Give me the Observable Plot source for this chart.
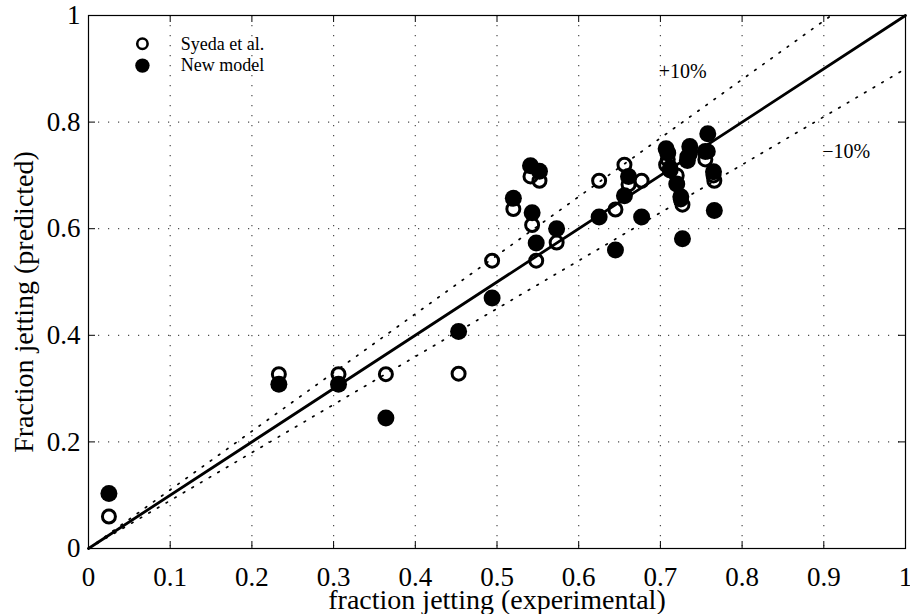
<!DOCTYPE html>
<html><head><meta charset="utf-8">
<script src="https://cdn.jsdelivr.net/npm/d3@7"></script>
<script src="https://cdn.jsdelivr.net/npm/@observablehq/plot@0.6"></script>
<style>body{margin:0;background:#fff} #chart{width:910px;height:614px}</style>
</head><body><div id="chart"></div>
<script>
// Experimental fraction jetting (x) and the two predictions (y)
const experimental = [0.025, 0.233, 0.306, 0.364, 0.453, 0.494, 0.520, 0.541, 0.543, 0.548, 0.552, 0.573,
  0.625, 0.645, 0.656, 0.661, 0.677, 0.707, 0.709, 0.712, 0.720, 0.725, 0.727, 0.733, 0.736, 0.755, 0.758, 0.765, 0.766];
const syeda = [0.060, 0.327, 0.327, 0.327, 0.328, 0.540, 0.637, 0.698, 0.607, 0.540, 0.690, 0.574,
  0.690, 0.636, 0.720, 0.683, 0.690, 0.720, 0.730, 0.715, 0.700, 0.655, 0.645, 0.735, 0.740, 0.730, 0.745, 0.700, 0.690];
const newModel = [0.103, 0.308, 0.308, 0.245, 0.407, 0.470, 0.657, 0.718, 0.630, 0.573, 0.708, 0.600,
  0.622, 0.560, 0.662, 0.698, 0.622, 0.750, 0.742, 0.710, 0.684, 0.660, 0.581, 0.728, 0.754, 0.745, 0.778, 0.707, 0.634];

const xTicks = [0, 0.1, 0.2, 0.3, 0.4, 0.5, 0.6, 0.7, 0.8, 0.9, 1];
const xTickLabels = ["0", "0.1", "0.2", "0.3", "0.4", "0.5", "0.6", "0.7", "0.8", "0.9", "1"];
const yTicks = [0, 0.2, 0.4, 0.6, 0.8, 1];
const yTickLabels = ["0", "0.2", "0.4", "0.6", "0.8", "1"];

const bandFactors = [1.1, 0.9];
const bandLabels = ["+10%", "\u221210%"];
const bandLabelX = [0.698, 0.898];
const bandLabelY = [0.894, 0.7455];

const legendNames = ["Syeda et al.", "New model"];
const legendMarkX = [0.066, 0.066];
const legendTextX = [0.113, 0.113];
const legendY = [0.947, 0.906];

const xLabel = "fraction jetting (experimental)";
const yLabel = "Fraction jetting (predicted)";

// build tables
const syedaPts = experimental.map((x, i) => ({x, y: syeda[i]}));
const newPts = experimental.map((x, i) => ({x, y: newModel[i]}));
const unity = [{x: 0, y: 0}, {x: 1, y: 1}];
const bands = bandFactors.map(f => {
  const xe = Math.min(1, 1 / f);
  return [{x: 0, y: 0}, {x: xe, y: xe * f}];
});
const bandText = bandLabels.map((t, i) => ({t, x: bandLabelX[i], y: bandLabelY[i]}));
const legendRows = legendNames.map((t, i) => ({t, mx: legendMarkX[i], tx: legendTextX[i], y: legendY[i], filled: i === 1}));

const W = 910, H = 614, mL = 88, mR = 5, mT = 15, mB = 66;
const fw = W - mL - mR, fh = H - mT - mB, tk = 7;
const dotted = {stroke: "#000", strokeWidth: 1.2, strokeOpacity: 0.7, strokeDasharray: "1.2,8.8"};

const chart = Plot.plot({
  width: W, height: H,
  marginLeft: mL, marginRight: mR, marginTop: mT, marginBottom: mB,
  x: {domain: [0, 1], axis: null},
  y: {domain: [0, 1], axis: null},
  style: {fontFamily: "'Liberation Serif', 'Times New Roman', serif", fontSize: "27px", background: "#fff", color: "#000"},
  marks: [
    Plot.gridX(xTicks.slice(1, -1), {...dotted}),
    Plot.gridY(yTicks.slice(1, -1), {...dotted}),
    ...bands.map(b => Plot.line(b, {x: "x", y: "y", stroke: "#000", strokeWidth: 1.7, strokeDasharray: "1.6,8.4"})),
    Plot.line(unity, {x: "x", y: "y", stroke: "#000", strokeWidth: 2.8}),
    Plot.dot(syedaPts, {x: "x", y: "y", r: 6.5, stroke: "#000", strokeWidth: 3, fill: "none"}),
    Plot.dot(newPts, {x: "x", y: "y", r: 8.5, fill: "#000", stroke: "none"}),
    Plot.text(bandText, {x: "x", y: "y", text: "t", textAnchor: "start", fontSize: 20, fill: "#000"}),
    // legend
    Plot.dot(legendRows.filter(d => !d.filled), {x: "mx", y: "y", r: 5.2, stroke: "#000", strokeWidth: 2.6, fill: "none"}),
    Plot.dot(legendRows.filter(d => d.filled), {x: "mx", y: "y", r: 7.2, fill: "#000", stroke: "none"}),
    Plot.text(legendRows, {x: "tx", y: "y", text: "t", textAnchor: "start", fontSize: 18, fill: "#000"}),
    // frame and inward ticks
    Plot.frame({stroke: "#000", strokeWidth: 1.2}),
    Plot.tickX(xTicks, {x: d => d, insetTop: fh - tk, stroke: "#000"}),
    Plot.tickX(xTicks, {x: d => d, insetBottom: fh - tk, stroke: "#000"}),
    Plot.tickY(yTicks, {y: d => d, insetRight: fw - tk, stroke: "#000"}),
    Plot.tickY(yTicks, {y: d => d, insetLeft: fw - tk, stroke: "#000"}),
    // tick labels
    Plot.text(xTicks, {x: d => d, frameAnchor: "bottom", dy: 29, lineAnchor: "middle", textAnchor: "middle", text: (d, i) => xTickLabels[i], fill: "#000"}),
    Plot.text(yTicks, {y: d => d, frameAnchor: "left", dx: -8, lineAnchor: "middle", textAnchor: "end", text: (d, i) => yTickLabels[i], fill: "#000"}),
    // axis labels
    Plot.text([xLabel], {frameAnchor: "bottom", dy: 52, lineAnchor: "middle", textAnchor: "middle", fontSize: 28, text: d => d, fill: "#000"}),
    Plot.text([yLabel], {frameAnchor: "left", dx: -64, dy: 20, rotate: -90, lineAnchor: "middle", textAnchor: "middle", fontSize: 28, text: d => d, fill: "#000"})
  ]
});
document.getElementById("chart").appendChild(chart);
</script>
</body></html>
